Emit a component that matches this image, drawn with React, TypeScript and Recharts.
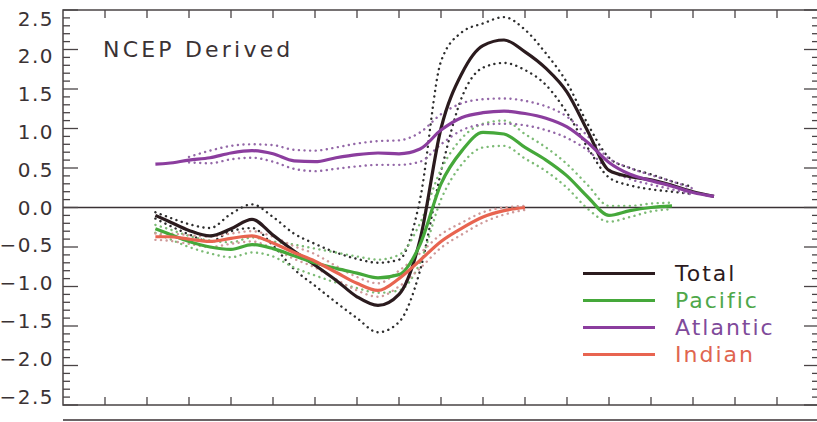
import { LineChart, Line, XAxis, YAxis, ReferenceLine, ReferenceArea, Legend } from "recharts";
import { ReactElement } from "react";

// lag positions (one tick = 1 unit)
const lag = [2.2, 2.5, 3, 3.5, 4, 4.5, 5, 5.5, 6, 6.5, 7, 7.5, 8, 8.5, 9, 9.5, 10, 10.5, 11, 11.5, 12, 12.5, 13, 13.5, 14, 14.5, 15, 15.5];

const total = [-0.10, -0.17, -0.29, -0.36, -0.27, -0.15, -0.35, -0.55, -0.73, -0.92, -1.13, -1.24, -1.10, -0.41, 1.00, 1.70, 2.05, 2.12, 1.97, 1.76, 1.46, 0.96, 0.47, 0.39, 0.35, 0.28, 0.20, 0.14];
const totalHi = [-0.06, -0.12, -0.21, -0.26, -0.08, 0.04, -0.12, -0.33, -0.46, -0.57, -0.65, -0.70, -0.66, 0.10, 1.85, 2.22, 2.33, 2.41, 2.25, 1.95, 1.58, 1.05, 0.63, 0.50, 0.42, 0.33, 0.26, null];
const totalLo = [-0.14, -0.22, -0.34, -0.43, -0.30, -0.26, -0.48, -0.78, -0.99, -1.20, -1.40, -1.58, -1.45, -0.80, 0.45, 1.40, 1.77, 1.83, 1.74, 1.55, 1.20, 0.75, 0.38, 0.28, 0.23, 0.20, 0.17, null];

const pacific = [-0.27, -0.33, -0.43, -0.50, -0.53, -0.47, -0.52, -0.61, -0.70, -0.77, -0.83, -0.89, -0.85, -0.47, 0.30, 0.72, 0.95, 0.93, 0.76, 0.60, 0.40, 0.13, -0.10, -0.04, 0.00, 0.02, null, null];
const pacificHi = [-0.22, -0.27, -0.36, -0.42, -0.44, -0.38, -0.43, -0.47, -0.52, -0.57, -0.62, -0.66, -0.60, -0.20, 0.48, 0.88, 1.06, 1.10, 0.93, 0.76, 0.55, 0.28, 0.02, 0.02, 0.05, 0.06, null, null];
const pacificLo = [-0.32, -0.39, -0.50, -0.58, -0.63, -0.57, -0.62, -0.76, -0.86, -0.95, -1.02, -1.08, -1.05, -0.70, 0.10, 0.55, 0.76, 0.78, 0.62, 0.46, 0.25, -0.02, -0.18, -0.12, -0.05, -0.02, null, null];

const atlantic = [0.55, 0.56, 0.60, 0.63, 0.69, 0.72, 0.68, 0.59, 0.58, 0.63, 0.67, 0.69, 0.68, 0.74, 0.98, 1.14, 1.20, 1.22, 1.19, 1.13, 1.02, 0.82, 0.57, 0.42, 0.34, 0.27, 0.19, 0.14];
const atlanticHi = [null, null, 0.64, 0.72, 0.78, 0.80, 0.79, 0.73, 0.72, 0.76, 0.81, 0.84, 0.85, 0.95, 1.18, 1.32, 1.37, 1.38, 1.35, 1.28, 1.15, 0.90, 0.62, 0.50, 0.41, 0.33, 0.24, null];
const atlanticLo = [null, null, 0.57, 0.56, 0.61, 0.63, 0.58, 0.49, 0.46, 0.49, 0.52, 0.54, 0.54, 0.58, 0.80, 0.98, 1.05, 1.06, 1.04, 0.98, 0.88, 0.72, 0.48, 0.36, 0.29, 0.23, 0.16, null];

const indian = [-0.37, -0.37, -0.40, -0.43, -0.39, -0.36, -0.45, -0.57, -0.68, -0.82, -0.96, -1.05, -0.90, -0.67, -0.43, -0.26, -0.12, -0.04, 0.00, null, null, null, null, null, null, null, null, null];
const indianHi = [-0.33, -0.33, -0.35, -0.37, -0.33, -0.30, -0.37, -0.49, -0.59, -0.74, -0.88, -0.96, -0.80, -0.58, -0.34, -0.19, -0.06, 0.00, 0.02, null, null, null, null, null, null, null, null, null];
const indianLo = [-0.41, -0.42, -0.46, -0.50, -0.46, -0.43, -0.52, -0.65, -0.76, -0.91, -1.05, -1.13, -1.00, -0.77, -0.51, -0.34, -0.19, -0.09, -0.03, null, null, null, null, null, null, null, null, null];

const seriesNames = ["Total", "Pacific", "Atlantic", "Indian"];

const yTicks = [-2.5, -2.4, -2.3, -2.2, -2.1, -2.0, -1.9, -1.8, -1.7, -1.6, -1.5, -1.4, -1.3, -1.2, -1.1, -1.0, -0.9, -0.8, -0.7, -0.6, -0.5, -0.4, -0.3, -0.2, -0.1, 0, 0.1, 0.2, 0.3, 0.4, 0.5, 0.6, 0.7, 0.8, 0.9, 1.0, 1.1, 1.2, 1.3, 1.4, 1.5, 1.6, 1.7, 1.8, 1.9, 2.0, 2.1, 2.2, 2.3, 2.4, 2.5];
const xTicks = [1, 2, 3, 4, 5, 6, 7, 8, 9, 10, 11, 12, 13, 14, 15, 16, 17];

const data = lag.map((u, i) => ({
  u,
  total: total[i],
  totalHi: totalHi[i],
  totalLo: totalLo[i],
  pacific: pacific[i],
  pacificHi: pacificHi[i],
  pacificLo: pacificLo[i],
  atlantic: atlantic[i],
  atlanticHi: atlanticHi[i],
  atlanticLo: atlanticLo[i],
  indian: indian[i],
  indianHi: indianHi[i],
  indianLo: indianLo[i],
}));

const PLOT_W = 756;
const PLOT_H = 395;
const AXIS = "#4a4446";
const FONT = "'DejaVu Sans', sans-serif";

const YTick = (props: any) => {
  const { x, y, payload } = props;
  const v = payload.value;
  const major = Math.abs(v * 2 - Math.round(v * 2)) < 1e-6;
  const len = major ? 15 : 7;
  const label = (v < 0 ? "\u2212" : "") + Math.abs(v).toFixed(1);
  // labels sit slightly squeezed towards the middle, as in the original plot
  const ly = y + v * 3.4;
  return (
    <g>
      <line x1={x} x2={x + len} y1={y} y2={y} stroke={AXIS} strokeWidth={1.3} />
      <line x1={x + PLOT_W} x2={x + PLOT_W - len} y1={y} y2={y} stroke={AXIS} strokeWidth={1.3} />
      {major && (
        <text x={x - 9} y={ly} dy={7} textAnchor="end" fontSize={20} fontFamily={FONT} fill="#3a3234" letterSpacing={1.5}>
          {label}
        </text>
      )}
    </g>
  );
};

const XTick = (props: any) => {
  const { x, y } = props;
  return (
    <g>
      <line x1={x} x2={x} y1={y} y2={y - 8} stroke={AXIS} strokeWidth={1.3} />
      <line x1={x} x2={x} y1={y - PLOT_H} y2={y - PLOT_H + 8} stroke={AXIS} strokeWidth={1.3} />
    </g>
  );
};

const legendColors: Record<string, string> = {
  Total: "#2b1b1e",
  Pacific: "#4fa84a",
  Atlantic: "#7f4b9b",
  Indian: "#e0654f",
};

const LegendBox = (props: any) => {
  const payload = (props.payload || [])
    .filter((p: any) => seriesNames.includes(p.value))
    .sort((a: any, b: any) => seriesNames.indexOf(a.value) - seriesNames.indexOf(b.value));
  return (
    <div style={{ fontFamily: FONT }}>
      {payload.map((p: any) => (
        <div key={p.value} style={{ display: "flex", alignItems: "center", height: 27 }}>
          <div style={{ width: 72, height: 3, background: p.color, marginRight: 20 }} />
          <span style={{ fontSize: 22, letterSpacing: 2, color: legendColors[p.value] }}>{p.value}</span>
        </div>
      ))}
    </div>
  );
};

const dotted = { strokeWidth: 2.4, strokeDasharray: "0.1 5.5", strokeLinecap: "round" as const };

export default function App(): ReactElement {
  return (
    <div style={{ position: "absolute", left: 0, top: 0, width: 817, height: 422, overflow: "hidden", background: "#fff" }}>
      <LineChart width={819} height={422} data={data} margin={{ top: 10, right: 0, bottom: 0, left: 0 }}>
        <XAxis
          dataKey="u"
          type="number"
          domain={[0, 18]}
          ticks={xTicks}
          interval={0}
          axisLine={false}
          tickLine={false}
          tickSize={0}
          tickMargin={0}
          height={17}
          tick={<XTick />}
        />
        <YAxis
          type="number"
          domain={[-2.5, 2.5]}
          ticks={yTicks}
          interval={0}
          axisLine={false}
          tickLine={false}
          tickSize={0}
          tickMargin={0}
          width={63}
          tick={<YTick />}
        />
        <ReferenceArea x1={0} x2={18} y1={-2.5} y2={2.5} fill="none" stroke={AXIS} strokeWidth={1.5} />
        <ReferenceLine y={0} stroke="#3a3234" strokeWidth={1.5} />

        <Line dataKey="totalHi" stroke="#2e2e2e" {...dotted} dot={false} activeDot={false} legendType="none" type="monotone" isAnimationActive={false} />
        <Line dataKey="totalLo" stroke="#2e2e2e" {...dotted} dot={false} activeDot={false} legendType="none" type="monotone" isAnimationActive={false} />
        <Line dataKey="pacificHi" stroke="#7dbb76" {...dotted} dot={false} activeDot={false} legendType="none" type="monotone" isAnimationActive={false} />
        <Line dataKey="pacificLo" stroke="#7dbb76" {...dotted} dot={false} activeDot={false} legendType="none" type="monotone" isAnimationActive={false} />
        <Line dataKey="atlanticHi" stroke="#9468a8" {...dotted} dot={false} activeDot={false} legendType="none" type="monotone" isAnimationActive={false} />
        <Line dataKey="atlanticLo" stroke="#9468a8" {...dotted} dot={false} activeDot={false} legendType="none" type="monotone" isAnimationActive={false} />
        <Line dataKey="indianHi" stroke="#cf9a9a" {...dotted} dot={false} activeDot={false} legendType="none" type="monotone" isAnimationActive={false} />
        <Line dataKey="indianLo" stroke="#cf9a9a" {...dotted} dot={false} activeDot={false} legendType="none" type="monotone" isAnimationActive={false} />

        <Line name="Total" dataKey="total" stroke="#2b1b1e" strokeWidth={3.2} dot={false} activeDot={false} type="monotone" isAnimationActive={false} />
        <Line name="Pacific" dataKey="pacific" stroke="#45a83a" strokeWidth={3.2} dot={false} activeDot={false} type="monotone" isAnimationActive={false} />
        <Line name="Atlantic" dataKey="atlantic" stroke="#8b3d9e" strokeWidth={3.2} dot={false} activeDot={false} type="monotone" isAnimationActive={false} />
        <Line name="Indian" dataKey="indian" stroke="#e86450" strokeWidth={3.2} dot={false} activeDot={false} type="monotone" isAnimationActive={false} />

        <Legend
          layout="vertical"
          align="center"
          verticalAlign="middle"
          content={<LegendBox />}
          wrapperStyle={{ left: 583, top: 260, width: 220 }}
        />
      </LineChart>
      <div
        style={{
          position: "absolute",
          left: 103,
          top: 37,
          fontFamily: FONT,
          fontSize: 22,
          letterSpacing: 3.2,
          color: "#3a3234",
        }}
      >
        NCEP Derived
      </div>
      <div style={{ position: "absolute", left: 63, top: 419, width: 760, height: 2, background: "#6a6466" }} />
    </div>
  );
}
